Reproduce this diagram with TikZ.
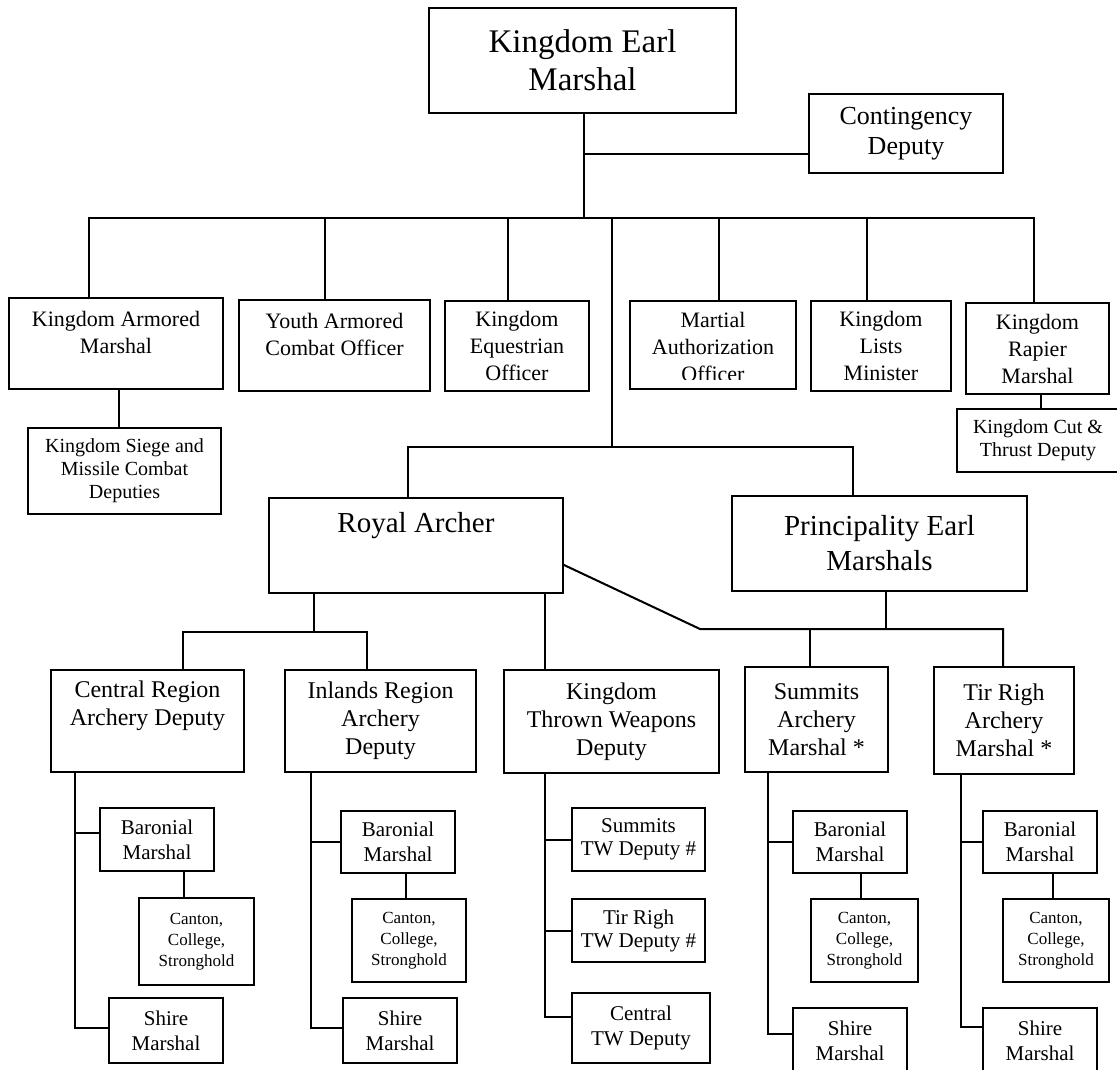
\documentclass[tikz,border=0pt]{standalone}
\usepackage{fontspec}
\setmainfont{Liberation Serif}
\usetikzlibrary{calc}

\begin{document}
\begin{tikzpicture}[x=1pt, y=-1pt,
  office/.style={draw, line width=2pt, align=center, inner sep=0pt},
  wire/.style={line width=2pt, line cap=rect},
  fhuge/.style={font=\fontsize{33}{38}\selectfont},
  flarge/.style={font=\fontsize{29}{35}\selectfont},
  fcont/.style={font=\fontsize{26}{30}\selectfont},
  fmid/.style={font=\fontsize{24}{28}\selectfont},
  frow/.style={font=\fontsize{22}{27}\selectfont},
  fsmall/.style={font=\fontsize{20}{23}\selectfont},
  fsub/.style={font=\fontsize{21}{25}\selectfont},
  ftw/.style={font=\fontsize{21}{23}\selectfont},
  ftiny/.style={font=\fontsize{17}{21}\selectfont}]

\fill[white, use as bounding box] (0,0) rectangle (1117,1070);

% --- Top: Kingdom Earl Marshal ---
\node[office, fhuge, minimum width=307pt, minimum height=105pt] (earl) at (582.5,60.5) {Kingdom Earl\\Marshal};
\node[office, fcont, minimum width=194pt, minimum height=79pt] (contingency) at (906,133.5) {Contingency\\Deputy};

\coordinate (hub) at (584,218);
\coordinate (cont-j) at (584,154);
\draw[wire] (earl.south -| hub) -- (hub);
\draw[wire] (cont-j) -- (cont-j -| contingency.west);

% --- First row of officers ---
\node[office, frow, minimum width=214pt, minimum height=91pt, text depth=23pt] (armored) at (116,343.5) {Kingdom Armored\\Marshal};
\node[office, frow, minimum width=191pt, minimum height=91pt, text depth=23pt] (youth) at (334.5,345.5) {Youth Armored\\Combat Officer};
\node[office, frow, minimum width=144pt, minimum height=90pt] (equestrian) at (517,346) {Kingdom\\Equestrian\\Officer};
\node[office, minimum width=166pt, minimum height=88pt] (martial) at (713,345) {};
\node[office, frow, minimum width=140pt, minimum height=90pt] (lists) at (881,346) {Kingdom\\Lists\\Minister};
\node[office, frow, minimum width=143pt, minimum height=91pt] (rapier) at (1037.5,348.5) {Kingdom\\Rapier\\Marshal};

% Martial text is cut off by its box
\begin{scope}
  \clip (martial.north west) rectangle ([yshift=11pt]martial.south east);
  \node[frow, align=center] (martial-text) at (713,347) {Martial\\Authorization\\Officer};
\end{scope}

% Deputies under the first row
\node[office, fsmall, minimum width=193pt, minimum height=86pt] (siege) at (124.5,471) {Kingdom Siege and\\Missile Combat\\Deputies};
\node[office, fsmall, minimum width=162pt, minimum height=63pt] (cutthrust) at (1038,440.5) {Kingdom Cut \&\\Thrust Deputy};

\coordinate (bus-l) at (89,218);
\coordinate (bus-r) at (1034,218);
\draw[wire] (bus-l) -- (bus-r);
\foreach \x/\n in {89/armored, 325/youth, 508/equestrian, 719/martial, 867/lists, 1034/rapier}
  \draw[wire] (\x,218) -- (\x,218 |- \n.north);
\draw[wire] (armored.south -| 119,0) -- (siege.north -| 119,0);
\draw[wire] (rapier.south -| 1041,0) -- (cutthrust.north -| 1041,0);

% --- Royal Archer and Principality Earl Marshals ---
\node[office, flarge, minimum width=294pt, minimum height=95pt, text depth=46pt] (royal) at (416,545.5) {Royal Archer};
\node[office, flarge, minimum width=295pt, minimum height=95pt] (principality) at (879.5,543.5) {Principality Earl\\Marshals};

\coordinate (mid-j) at (612,447);
\draw[wire] (612,218) -- (mid-j);
\draw[wire] (royal.north -| 408,0) |- (mid-j) -| (principality.north -| 853,0);

% --- Third row: regional deputies and principality marshals ---
\node[office, fmid, minimum width=193pt, minimum height=102pt, text depth=35pt] (central) at (147.5,721) {Central Region\\Archery Deputy};
\node[office, fmid, minimum width=191pt, minimum height=102pt] (inlands) at (380.5,721) {Inlands Region\\Archery\\Deputy};
\node[office, fmid, minimum width=215pt, minimum height=103pt] (thrown) at (611.5,721.5) {Kingdom\\Thrown Weapons\\Deputy};
\node[office, fmid, minimum width=143pt, minimum height=105pt] (summits) at (816.5,719.5) {Summits\\Archery\\Marshal *};
\node[office, fmid, minimum width=140pt, minimum height=107pt] (tirrigh) at (1004,720.5) {Tir Righ\\Archery\\Marshal *};

\coordinate (ra-j) at (314,632);
\draw[wire] (royal.south -| ra-j) -- (ra-j);
\draw[wire] (central.north -| 183,0) |- (ra-j) -| (inlands.north -| 367,0);
\draw[wire] (royal.south -| 545,0) -- (thrown.north -| 545,0);

\coordinate (diag-a) at (564,565);
\coordinate (diag-b) at (700,629);
\coordinate (pr-j) at (886,629);
\draw[wire] (diag-a) -- (diag-b) -- (1003,629) -- (tirrigh.north -| 1003,0);
\draw[wire] (principality.south -| pr-j) -- (pr-j);
\draw[wire] (810,629) -- (summits.north -| 810,0);

% --- Central Region branch ---
\node[office, fsub, minimum width=114pt, minimum height=63pt] (cbaron) at (157,839.5) {Baronial\\Marshal};
\node[office, ftiny, minimum width=115pt, minimum height=87pt] (ccanton) at (196.5,941.5) {Canton,\\College,\\Stronghold};
\node[office, fsub, minimum width=114pt, minimum height=65pt] (cshire) at (166,1030.5) {Shire\\Marshal};
\draw[wire] (central.south -| 75,0) |- ([yshift=3pt]cshire.west);
\draw[wire] (75,833) -- (cbaron.west |- 75,833);
\draw[wire] (cbaron.south -| 184,0) -- (ccanton.north -| 184,0);

% --- Inlands Region branch ---
\node[office, fsub, minimum width=114pt, minimum height=62pt] (ibaron) at (398,842) {Baronial\\Marshal};
\node[office, ftiny, minimum width=114pt, minimum height=83pt] (icanton) at (409,940.5) {Canton,\\College,\\Stronghold};
\node[office, fsub, minimum width=114pt, minimum height=65pt] (ishire) at (400,1030.5) {Shire\\Marshal};
\draw[wire] (inlands.south -| 311,0) |- ([yshift=3pt]ishire.west);
\draw[wire] (ibaron.west -| 311,0) -- (ibaron.west);
\draw[wire] (ibaron.south -| 406,0) -- (icanton.north -| 406,0);

% --- Thrown Weapons branch ---
\node[office, ftw, minimum width=133pt, minimum height=63pt] (twsummits) at (638.5,839.5) {Summits\\TW Deputy \#};
\node[office, ftw, minimum width=133pt, minimum height=63pt] (twtirrigh) at (638.5,930.5) {Tir Righ\\TW Deputy \#};
\node[office, fsub, minimum width=138pt, minimum height=70pt] (twcentral) at (641,1028) {Central\\TW Deputy};
\draw[wire] (thrown.south -| 545,0) |- ([yshift=11pt]twcentral.west);
\draw[wire] (twsummits.west -| 545,0) -- (twsummits.west);
\draw[wire] (twtirrigh.west -| 545,0) -- (twtirrigh.west);

% --- Summits branch ---
\node[office, fsub, minimum width=114pt, minimum height=62pt] (sbaron) at (850,842) {Baronial\\Marshal};
\node[office, ftiny, minimum width=107pt, minimum height=83pt] (scanton) at (864.5,940.5) {Canton,\\College,\\Stronghold};
\node[office, fsub, minimum width=114pt, minimum height=65pt] (sshire) at (850,1040.5) {Shire\\Marshal};
\draw[wire] (summits.south -| 768,0) |- ([yshift=6.5pt]sshire.west);
\draw[wire] (sbaron.west -| 768,0) -- (sbaron.west);
\draw[wire] (sbaron.south -| 861,0) -- (scanton.north -| 861,0);

% --- Tir Righ branch ---
\node[office, fsub, minimum width=114pt, minimum height=62pt] (tbaron) at (1040,842) {Baronial\\Marshal};
\node[office, ftiny, minimum width=106pt, minimum height=83pt] (tcanton) at (1056,940.5) {Canton,\\College,\\Stronghold};
\node[office, fsub, minimum width=114pt, minimum height=65pt] (tshire) at (1040,1040.5) {Shire\\Marshal};
\draw[wire] (tirrigh.south -| 961,0) |- ([yshift=13.5pt]tshire.west);
\draw[wire] (tbaron.west -| 961,0) -- (tbaron.west);
\draw[wire] (tbaron.south -| 1053,0) -- (tcanton.north -| 1053,0);

\end{tikzpicture}
\end{document}
